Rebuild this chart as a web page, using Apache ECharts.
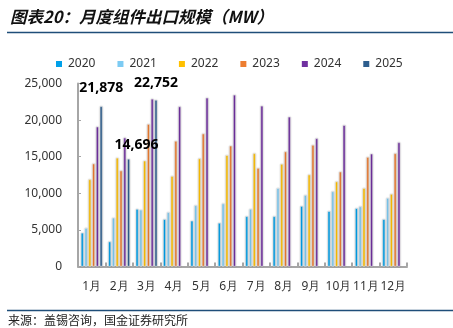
<!DOCTYPE html>
<html>
<head>
<meta charset="utf-8">
<script src="https://cdn.jsdelivr.net/npm/echarts@6/dist/echarts.min.js"></script>
<style>
  html, body { margin: 0; padding: 0; background: #fff; }
  #chart { width: 453px; height: 328px; }
</style>
</head>
<body>
<div id="chart"></div>
<script>
// Monthly PV module exports (MW)
const months = ['1月', '2月', '3月', '4月', '5月', '6月', '7月', '8月', '9月', '10月', '11月', '12月'];
const years = ['2020', '2021', '2022', '2023', '2024', '2025'];

const v2020 = [4600, 3400, 7850, 6450, 6250, 5950, 6850, 6850, 8250, 7550, 7950, 6450];
const v2021 = [5250, 6650, 7750, 7400, 8350, 8600, 7850, 10700, 9750, 10250, 8200, 9350];
const v2022 = [11900, 14850, 14450, 12350, 14750, 15200, 15450, 14000, 12550, 11600, 10700, 9900];
const v2023 = [14050, 13100, 19450, 17150, 18150, 16500, 13450, 15700, 16600, 12950, 14950, 15450];
const v2024 = [19100, 17600, 22900, 21850, 23050, 23450, 21950, 20450, 17500, 19300, 15400, 16950];
const v2025 = [21878, 14696, 22752];

const yTicks = { min: 0, max: 25000, interval: 5000 };

const colors = ['#00A0E9', '#7DCBF3', '#FFC000', '#ED7D31', '#7030A0', '#2E5E8E'];
const seriesValues = [v2020, v2021, v2022, v2023, v2024, v2025];

const chart = echarts.init(document.getElementById('chart'), null, { renderer: 'canvas' });

const series = years.map((y, i) => {
  const s = {
    name: y,
    type: 'bar',
    barWidth: 2.7,
    barGap: '40%',
    data: seriesValues[i].slice(),
    itemStyle: {
      color: colors[i],
      borderColor: '#ffffff',
      borderWidth: 0.5,
      shadowColor: 'rgba(0,0,0,0.35)',
      shadowBlur: 1.5
    }
  };
  if (y === '2025') {
    // value labels for the current year
    const offs = [[0, -6], [8, -2], [0, -5]];
    s.data = seriesValues[i].map((v, k) => ({
      value: v,
      label: { offset: offs[k] }
    }));
    s.label = {
      show: true,
      position: 'top',
      distance: 5,
      fontFamily: 'Noto Sans',
      fontWeight: 'bold',
      fontSize: 14,
      color: '#000',
      formatter: p => p.value.toLocaleString('en-US')
    };
  }
  return s;
});

chart.setOption({
  animation: false,
  color: colors,
  textStyle: { fontFamily: 'Noto Sans' },
  legend: {
    left: 49,
    top: 53,
    itemWidth: 8,
    itemHeight: 8,
    itemGap: 20,
    icon: 'rect',
    textStyle: { fontSize: 12, color: '#333', fontFamily: 'Noto Sans' },
    data: years
  },
  grid: { left: 78, right: 46, top: 83.5, bottom: 61.5, containLabel: false },
  xAxis: {
    type: 'category',
    data: months,
    axisLine: { lineStyle: { color: '#A6A6A6', width: 2 } },
    axisTick: { show: true, inside: true, length: 4, lineStyle: { color: '#A6A6A6', width: 2 } },
    axisLabel: { color: '#333', fontSize: 12, margin: 14, interval: 0, fontFamily: 'Noto Sans' }
  },
  yAxis: {
    type: 'value',
    min: yTicks.min,
    max: yTicks.max,
    interval: yTicks.interval,
    splitLine: { show: false },
    axisLine: { show: true, lineStyle: { color: '#A6A6A6', width: 2 } },
    axisTick: { show: true, inside: true, length: 3, lineStyle: { color: '#A6A6A6', width: 1 } },
    axisLabel: {
      color: '#333',
      fontSize: 12,
      margin: 16,
      fontFamily: 'Noto Sans',
      formatter: v => v.toLocaleString('en-US')
    }
  },
  graphic: [
    {
      type: 'text',
      left: 10,
      top: 8,
      style: {
        text: '图表20：月度组件出口规模（MW）',
        font: 'italic bold 16.5px "Noto Sans CJK SC"',
        fill: '#111'
      }
    },
    {
      type: 'line',
      shape: { x1: 7, y1: 32.5, x2: 453, y2: 32.5 },
      style: { stroke: '#1F4E79', lineWidth: 1.5 }
    },
    {
      type: 'line',
      shape: { x1: 7, y1: 310.5, x2: 453, y2: 310.5 },
      style: { stroke: '#1F4E79', lineWidth: 1.5 }
    },
    {
      type: 'text',
      left: 8,
      top: 314,
      style: {
        text: '来源：盖锡咨询，国金证券研究所',
        font: '12px "Noto Sans CJK SC"',
        fill: '#222'
      }
    }
  ],
  series: series
});
</script>
</body>
</html>
